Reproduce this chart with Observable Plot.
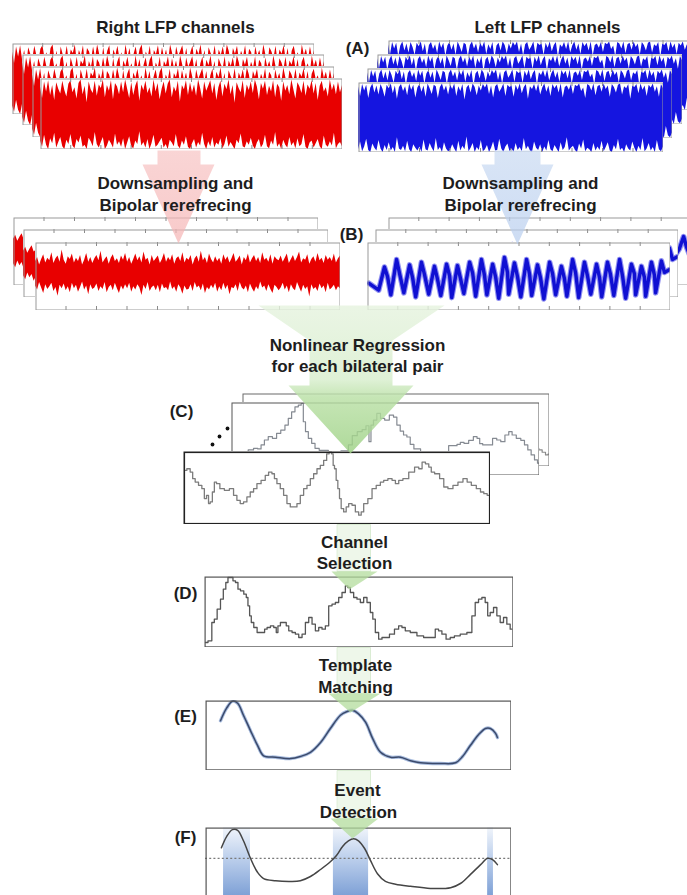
<!DOCTYPE html>
<html>
<head>
<meta charset="utf-8">
<script src="https://cdn.jsdelivr.net/npm/d3@7"></script>
<script src="https://cdn.jsdelivr.net/npm/@observablehq/plot@0.6"></script>
<style>
  html, body { margin: 0; padding: 0; background: white; }
  #fig { position: relative; width: 687px; height: 895px; overflow: hidden; background: white; }
  #fig svg { position: absolute; }
</style>
</head>
<body>
<div id="fig"></div>
<script>
// ---------------- DATA ----------------
const tickPositions = [10, 20, 30, 40, 50, 60, 70, 80, 90];

// (A) raw LFP envelopes (upper / lower), arbitrary µV
const rightA_hi = [38,22,45,31,47,26,40,19,44,35,28,46,33,24,42, 47,30,37,21,43,48,27,39,16,45,34,29,46,25,41, 36,48,23,40,32,47,20,43,38,27,45,30,48,35,22, 44,26,39,47,18,41,33,46,29,37,24,48,31,43,20, 35,45,28,42,48,23,38,31,46,17,40,34,47,26,44, 30,41,25,48,36,21,45,32,39,47,28,43,19,37,46, 24,42,34,48,27,40,15,44,36,30,47,22,41,33,45, 29,48,38,20,43,35,46,26,39,31,47,23,42,37,18, 45,32,40,27,48,34,21,44,38,29,46,25,41,35,47, 28,43,19,39,46,31,37,24,48,33,42,27,45,30,40];
const rightA_lo = [-38,-47,-30,-44,-50,-35,-42,-27,-48,-40,-33,-46,-50,-37,-43, -29,-45,-49,-36,-41,-31,-47,-44,-50,-34,-39,-46,-26,-43,-48, -40,-33,-50,-45,-37,-42,-48,-28,-44,-39,-47,-35,-50,-41,-32, -46,-49,-38,-43,-25,-45,-40,-48,-36,-50,-42,-30,-47,-44,-39, -34,-48,-43,-50,-37,-41,-46,-29,-45,-49,-38,-44,-32,-47,-50, -42,-36,-48,-40,-45,-27,-43,-50,-39,-46,-33,-48,-41,-44,-35, -49,-43,-31,-47,-40,-45,-50,-37,-42,-28,-46,-48,-39,-44,-34, -45,-50,-41,-36,-48,-43,-30,-46,-49,-38,-44,-26,-47,-42,-50, -37,-44,-48,-33,-45,-40,-49,-35,-46,-43,-29,-47,-50,-41,-38, -48,-42,-36,-46,-50,-31,-44,-47,-39,-45,-27,-49,-43,-40,-46];
const leftA_hi = [44,30,47,38,46,27,42,48,35,45,32,47,40,29,46, 41,48,34,45,26,43,47,37,44,31,48,39,46,28,42, 47,36,45,29,48,41,33,46,44,27,43,48,38,45,32, 46,40,48,30,44,37,47,25,42,46,35,48,43,31,45, 38,47,42,48,33,45,28,44,47,36,41,48,30,46,43, 45,29,46,39,48,34,43,47,26,44,40,47,37,48,32, 42,48,36,45,30,47,41,46,35,48,28,43,45,39,47, 33,46,44,48,37,42,27,47,45,38,48,31,44,46,36, 48,40,45,29,47,43,35,46,48,32,44,41,47,26,45, 43,47,34,48,39,45,30,46,42,48,36,44,29,47,41];
const leftA_lo = [-46,-35,-49,-42,-31,-47,-50,-38,-44,-48,-33,-45,-50,-40,-47, -36,-48,-43,-50,-29,-45,-47,-41,-49,-34,-46,-50,-39,-44,-48, -42,-50,-32,-46,-48,-37,-44,-49,-30,-47,-43,-50,-36,-45,-49, -47,-39,-45,-50,-34,-48,-41,-46,-28,-49,-44,-37,-50,-43,-47, -33,-49,-46,-40,-50,-44,-35,-48,-47,-31,-45,-50,-42,-38,-49, -45,-50,-37,-47,-43,-49,-30,-46,-41,-48,-50,-35,-44,-47,-39, -50,-42,-48,-33,-46,-49,-40,-45,-50,-36,-47,-43,-29,-48,-44, -41,-47,-50,-38,-45,-32,-49,-44,-46,-50,-37,-48,-42,-47,-34, -49,-43,-36,-48,-50,-40,-46,-31,-47,-44,-50,-39,-45,-48,-35, -44,-50,-41,-47,-30,-49,-45,-37,-48,-43,-50,-33,-46,-49,-42];

// (B) downsampled, bipolar re-referenced
const rightB_hi = [16,22,11,19,26,14,21,17,29,13,20,24,15,33,18, 12,23,19,27,14,21,16,25,11,18,28,15,22,13,20, 25,17,31,14,19,23,12,21,26,16,20,13,24,18,28, 15,22,12,19,27,17,23,14,30,18,21,11,25,16,20, 24,13,19,28,15,22,17,26,12,20,23,16,29,14,21, 18,25,11,20,24,15,31,17,22,13,27,19,14,23,16, 21,12,26,18,23,14,20,28,15,19,24,11,22,17,27, 14,20,25,16,22,13,29,18,21,15,26,12,23,19,17, 24,15,21,27,13,19,25,16,22,30,14,20,18,26,12, 19,23,15,28,17,21,13,25,18,22,16,27,14,20,24];
const rightB_lo = [-20,-26,-15,-23,-31,-18,-25,-21,-16,-28,-22,-35,-19,-24,-17, -27,-21,-30,-16,-24,-19,-29,-22,-14,-26,-20,-33,-18,-25,-23, -17,-28,-21,-25,-15,-30,-22,-19,-27,-16,-24,-31,-20,-26,-18, -24,-16,-29,-21,-26,-18,-23,-34,-19,-25,-15,-28,-22,-20,-27, -19,-30,-17,-24,-22,-27,-14,-25,-21,-29,-18,-23,-32,-20,-26, -25,-18,-28,-15,-23,-20,-27,-17,-31,-22,-26,-19,-24,-16,-29, -21,-27,-16,-25,-19,-33,-22,-24,-18,-28,-15,-23,-26,-20,-30, -17,-24,-29,-21,-26,-14,-23,-20,-28,-18,-25,-31,-19,-22,-27, -23,-16,-26,-20,-30,-18,-24,-27,-15,-22,-29,-19,-25,-21,-36, -18,-25,-22,-28,-17,-24,-20,-30,-16,-26,-23,-19,-27,-21,-24];
const rightBBack_t = [0, 0.7, 1.4, 2.1, 2.8, 3.5, 4.2];
const rightBBack_hi = [12, 18, 9, 15, 20, 11, 14];
const rightBBack_lo = [-24, -30, -20, -27, -22, -32, -25];
const leftB_t = [0.5, 3.7,5.6,6.6, 7.7,9.6,10.6, 12.0,13.9,14.9, 15.9,17.8,18.8, 20.2,22.1,23.1, 24.2,26.1,27.1, 27.8,29.7,30.7, 31.8,33.7,34.7, 35.7,37.6,38.6, 39.4,41.3,42.3, 43.3,45.2,46.2, 46.6,48.5,49.5, 50.6,52.5,53.5, 54.2,56.1,57.1, 58.2,60.1,61.1, 62.1,64.0,65.0, 65.8,67.7,68.7, 69.7,71.6,72.6, 73.7,75.6,76.6, 77.3,79.2,80.2, 81.3,83.2,84.2, 85.2,87.1,88.1, 88.5,90.4,91.4, 91.8,93.7,94.7, 95.1,97.0,98.0, 99.6];
const leftB_v = [-10, -20,14,0, -27,25,4, -24,17,-2, -30,21,3, -26,15,-4, -28,18,1, -31,16,-3, -25,21,5, -29,25,2, -27,18,-1, -32,28,6, -26,20,0, -30,25,3, -28,17,-2, -33,21,4, -27,15,-3, -29,25,5, -31,21,1, -26,18,-2, -30,21,3, -28,25,0, -32,18,4, -27,15,-1, -29,21,2, -24,23,6, 10];
const leftBBack_t = [90, 94, 96, 97.4, 98.4, 99.5];
const leftBBack_v = [-20, -10, 4, 22, 6, -6];

// (C) regression outputs (sample index, amplitude)
const cFront_t = [20,30,40,45,55,65,75,80,88,92,98,105,110,118,130,145,160,170,180,190,200,210,220,230,240,255,265,275,285,290,300,310,320,330,340,350,360,370,380,390,400,410,420,430,440,448,455,462,465,470,475,480,485,490,500,505,515,525,535,545,550,560,575,585,600,610,620,635,645,655,665,680,700,715,725,735,745,755,760,775,790,800,815,830,845,860,870,885,900,910,920,930];
const cFront_v = [163,168,158,138,128,118,108,78,88,63,68,98,128,123,108,103,108,88,73,63,68,83,98,108,123,133,148,158,153,138,123,108,88,63,53,53,63,88,108,118,138,153,168,178,193,213,218,213,178,168,133,108,78,48,38,53,63,58,38,28,38,63,78,108,118,128,133,138,133,123,133,138,158,173,168,188,183,173,158,153,138,113,108,118,128,138,128,118,108,98,93,88];
const cMid_t = [162,200,220,232,245,252,265,275,290,300,315,325,335,345,355,365,372,378,385,395,405,415,430,470,505,515,528,545,557,568,575,580,590,600,612,625,640,650,660,670,680,690,700,712,740,790,830,840,850,862,878,890,900,906,918,935,948,960,972,985,995,1005,1020,1032,1042,1052,1062,1072,1080];
const cMid_v = [62,67,77,82,80,92,107,117,112,127,137,152,172,192,207,212,217,162,132,112,97,82,76,67,74,92,120,132,138,150,102,152,167,187,172,167,182,176,152,134,122,116,94,80,57,47,90,94,100,97,106,117,112,96,92,92,112,107,102,122,132,122,112,106,92,77,62,47,37];
const cBack_t = [1040, 1060, 1075, 1085, 1095, 1105, 1110];
const cBack_v = [70, 62, 55, 50, 43, 35, 37];

// (D) selected channel
const d_t = [15,30,38,45,55,65,72,80,85,95,100,110,115,125,135,140,145,150,155,165,175,190,195,205,215,225,230,235,245,255,260,270,280,290,300,310,320,330,340,350,360,370,380,390,400,410,420,430,440,445,455,465,475,485,495,505,515,520,530,540,550,560,575,590,600,610,620,640,660,680,700,710,720,730,745,755,770,790,810,820,830,840,850,860,865,875,885,895,905,915,925,935];
const d_v = [15,20,75,85,115,145,175,195,210,210,200,195,175,170,160,150,125,95,75,60,45,45,55,60,65,60,45,65,75,75,65,50,45,40,30,40,75,90,70,50,60,55,65,125,130,135,150,165,185,180,165,150,145,135,150,135,105,85,45,25,30,30,40,55,65,60,50,45,35,30,30,55,50,40,25,30,35,40,45,95,135,145,150,135,95,105,120,95,75,90,70,55];

// (E) template matching output, normalized %
const e_t = [4.9,6.9,8.8,10.5,12.4,14.7,17.0,19.0,22.9,27.8,31.0,34.3,37.6,40.8,44.1,46.1,48.0,50.0,52.3,54.6,57.2,60.5,63.7,67.0,70.3,76.8,81.7,84.0,86.6,89.2,91.5,93.1,94.8,95.4];
const e_v = [71,89,99,96,79,57,36,21,19,17,20,26,40,60,79,84,86,81,69,46,26,19,19,14,11,10,11,20,36,51,60,60,53,47];

// (F) event detection
const f_t = [5.2,6.9,8.8,10.5,12.4,14.7,17.0,19.0,22.9,27.8,31.0,34.3,37.6,40.8,42.8,44.8,46.7,48.4,50.0,52.0,53.9,56.2,58.8,62.1,67.0,73.5,80.1,83.3,86.6,89.9,92.2,93.8,95.4];
const f_v = [71,87,97,96,81,56,36,27,24,23,24,30,40,51,60,73,81,84,81,70,53,34,23,19,16,13,14,20,33,47,56,54,47];
const fThreshold = 56;
const fEventStart = [5.9, 41.8, 92.2];
const fEventEnd = [14.7, 53.3, 94.1];

// text
const titleTexts = ["Right LFP channels", "Left LFP channels"];
const stepTexts = ["Downsampling and", "Bipolar rerefrecing", "Downsampling and", "Bipolar rerefrecing",
  "Nonlinear Regression", "for each bilateral pair", "Channel", "Selection", "Template", "Matching", "Event", "Detection"];
const panelLetters = ["(A)", "(B)", "(C)", "(D)", "(E)", "(F)"];

// ---------------- LAYOUT ----------------
const layout = {
  rightA: {w: 302, h: 71, at: [[12,43],[22,54],[32,66],[40,78]]},
  leftA: {w: 305, h: 70, at: [[388,40],[377,54],[367,68],[358,82]]},
  rightB: {w: 305, h: 68, at: [[13,217],[23,229],[35,242]]},
  leftB: {w: 303, h: 68, at: [[388,217],[375,229],[367,242]]},
  cBack: {x: 242, y: 393, w: 307, h: 73},
  cMid: {x: 231, y: 402, w: 308, h: 73},
  cFront: {x: 183, y: 451, w: 307, h: 73},
  D: {x: 204, y: 576, w: 309, h: 71},
  E: {x: 205, y: 700, w: 306, h: 70},
  F: {x: 205, y: 827, w: 306, h: 70},
  titlePos: [[175,32],[547,32]],
  stepPos: [[175,188],[175,210],[520,188],[520,210],[357,350],[357,371],[354,547],[354,568],[355,670],[355,692],[357,795],[358,817]],
  letterPos: [[357,53],[351,239],[181,416],[185,598],[185,721],[185,842]],
  dots: [[212,444],[219,436],[227,428]],
  pinkArrow: [[157,150],[200,150],[200,164],[214,164],[178,243],[142,164],[157,164]],
  blueArrow: [[494,150],[540,150],[540,164],[553,164],[517,244],[481,164],[494,164]],
  greenBig: [[258,305],[444,305],[392,340],[392,385],[413,385],[350,453],[288,385],[309,385],[309,340]],
  greenShafts: [[[337,524],[370,524],[370,571],[337,571]], [[337,647],[370,647],[370,693],[337,693]], [[337,770],[370,770],[370,818],[337,818]]],
  greenHeads: [[[331,571],[377,571],[349,589]], [[328,693],[380,693],[350,712]], [[330,818],[378,818],[352,838]]]
};

// ---------------- RENDER ----------------
const fig = document.getElementById("fig");

// shared gradients
const NS = "http://www.w3.org/2000/svg";
const defsSvg = document.createElementNS(NS, "svg");
defsSvg.setAttribute("width", 0); defsSvg.setAttribute("height", 0);
defsSvg.innerHTML = `<defs>
  <linearGradient id="greenGrad" gradientUnits="userSpaceOnUse" x1="0" y1="305" x2="0" y2="453">
    <stop offset="0" stop-color="#e6f3df"/><stop offset="0.5" stop-color="#d8eecd"/><stop offset="0.62" stop-color="#b9e0a5"/><stop offset="1" stop-color="#9dd184"/>
  </linearGradient>
  <linearGradient id="pinkGrad" x1="0" y1="0" x2="0" y2="1">
    <stop offset="0" stop-color="#f7c3c3"/><stop offset="1" stop-color="#f5b3b3"/>
  </linearGradient>
  <linearGradient id="blueGrad" x1="0" y1="0" x2="0" y2="1">
    <stop offset="0" stop-color="#c9daf2"/><stop offset="1" stop-color="#b7cdee"/>
  </linearGradient>
  <linearGradient id="bandGrad" x1="0" y1="0" x2="0" y2="1">
    <stop offset="0" stop-color="#f1f5fb"/><stop offset="0.45" stop-color="#bccfec"/><stop offset="1" stop-color="#7c9fd5"/>
  </linearGradient>
</defs>`;
fig.append(defsSvg);

function addPanel({x, y, w, h, xDomain, yDomain, marks, frameStroke = "#9a9a9a", frameWidth = 1}) {
  const svg = Plot.plot({
    width: w, height: h, margin: 0,
    x: {domain: xDomain, axis: null},
    y: {domain: yDomain, axis: null},
    style: {background: "white", overflow: "hidden"},
    marks: [...marks, Plot.frame({stroke: frameStroke, strokeWidth: frameWidth, inset: frameWidth / 2})]
  });
  svg.style.left = x + "px";
  svg.style.top = y + "px";
  fig.append(svg);
}

const frameTicks = (h) => [
  Plot.tickX(tickPositions, {x: d => d, stroke: "#8a8a8a", insetBottom: h - 4}),
  Plot.tickX(tickPositions, {x: d => d, stroke: "#8a8a8a", insetTop: h - 4})
];

const envTable = (hi, lo) => hi.map((v, i) => ({t: i * 100 / (hi.length - 1), hi: v, lo: lo[i]}));

// (A)
const rA = envTable(rightA_hi, rightA_lo);
const lA = envTable(leftA_hi, leftA_lo);
for (const [x, y] of layout.rightA.at) {
  const {w, h} = layout.rightA;
  addPanel({x, y, w, h, xDomain: [0, 100], yDomain: [-50, 50],
    marks: [Plot.areaY(rA, {x: "t", y1: "lo", y2: "hi", fill: "#e80000"}), ...frameTicks(h)]});
}
for (const [x, y] of layout.leftA.at) {
  const {w, h} = layout.leftA;
  addPanel({x, y, w, h, xDomain: [0, 100], yDomain: [-50, 50],
    marks: [Plot.areaY(lA, {x: "t", y1: "lo", y2: "hi", fill: "#1515e0"}), ...frameTicks(h)]});
}

// (B)
const rB = envTable(rightB_hi, rightB_lo);
const rBBack = rightBBack_t.map((t, i) => ({t, hi: rightBBack_hi[i], lo: rightBBack_lo[i]}));
layout.rightB.at.forEach(([x, y], k) => {
  const {w, h} = layout.rightB;
  const data = k < 2 ? rBBack : rB;
  addPanel({x, y, w, h, xDomain: [0, 100], yDomain: [-56, 44],
    marks: [Plot.areaY(data, {x: "t", y1: "lo", y2: "hi", fill: "#e80000"}), ...frameTicks(h)]});
});
const lB = leftB_t.map((t, i) => ({t, v: leftB_v[i]}));
const lBBack = leftBBack_t.map((t, i) => ({t, v: leftBBack_v[i]}));
layout.leftB.at.forEach(([x, y], k) => {
  const {w, h} = layout.leftB;
  const data = k === 0 ? lBBack : lB;
  addPanel({x, y, w, h, xDomain: [0, 100], yDomain: [-50, 50],
    marks: [
      Plot.line(data, {x: "t", y: "v", stroke: "#3434e6", strokeOpacity: 0.55, strokeWidth: 5.6}),
      Plot.line(data, {x: "t", y: "v", stroke: "#1010d2", strokeWidth: 3.4}),
      ...frameTicks(h)]});
});

// (C)
const cB = cBack_t.map((t, i) => ({t, v: cBack_v[i]}));
const cM = cMid_t.map((t, i) => ({t, v: cMid_v[i]}));
const cF = cFront_t.map((t, i) => ({t, v: cFront_v[i]}));
addPanel({...layout.cBack, xDomain: [192, 1112], yDomain: [0, 220], frameStroke: "#6a6a6a",
  marks: [Plot.line(cB, {x: "t", y: "v", stroke: "#8a8a8a", strokeWidth: 1.2, curve: "step"})]});
addPanel({...layout.cMid, xDomain: [160, 1082], yDomain: [0, 220], frameStroke: "#555",
  marks: [Plot.line(cM, {x: "t", y: "v", stroke: "#858a92", strokeWidth: 1.2, curve: "step"})]});
addPanel({...layout.cFront, xDomain: [15, 935], yDomain: [0, 220], frameStroke: "#222", frameWidth: 1.6,
  marks: [Plot.line(cF, {x: "t", y: "v", stroke: "#7c7c7c", strokeWidth: 1.3, curve: "step"})]});

// (D)
const dD = d_t.map((t, i) => ({t, v: d_v[i]}));
addPanel({...layout.D, xDomain: [12, 940], yDomain: [0, 213], frameStroke: "#555", frameWidth: 1.2,
  marks: [Plot.line(dD, {x: "t", y: "v", stroke: "#555", strokeWidth: 1.3, curve: "step"})]});

// (E)
const eD = e_t.map((t, i) => ({t, v: e_v[i]}));
addPanel({...layout.E, xDomain: [0, 100], yDomain: [0, 100], frameStroke: "#555", frameWidth: 1.2,
  marks: [
    Plot.line(eD, {x: "t", y: "v", stroke: "#a9bddf", strokeWidth: 3.4, curve: "catmull-rom"}),
    Plot.line(eD, {x: "t", y: "v", stroke: "#3b4a6b", strokeWidth: 1.5, curve: "catmull-rom"})
  ]});

// (F)
const fD = f_t.map((t, i) => ({t, v: f_v[i]}));
const fEv = fEventStart.map((s, i) => ({start: s, end: fEventEnd[i]}));
addPanel({...layout.F, xDomain: [0, 100], yDomain: [0, 100], frameStroke: "#555", frameWidth: 1.2,
  marks: [
    Plot.rect(fEv, {x1: "start", x2: "end", y1: 0, y2: 100, fill: "url(#bandGrad)"}),
    Plot.ruleY([fThreshold], {stroke: "#7a7a7a", strokeWidth: 1.3, strokeDasharray: "2,2.2"}),
    Plot.line(fD, {x: "t", y: "v", stroke: "#454545", strokeWidth: 1.5, curve: "catmull-rom"})
  ]});

// Overlay: arrows + text
const pts = arr => arr.map(([x, y]) => ({x, y}));
const textRows = (texts, pos) => texts.map((text, i) => ({text, x: pos[i][0], y: pos[i][1]}));
const font = {fontSize: 17, fontWeight: "bold", fontFamily: "Liberation Sans, Arial, Helvetica, sans-serif", fill: "#1d1d1d", textAnchor: "middle", lineAnchor: "bottom"};

const overlay = Plot.plot({
  width: 687, height: 895, margin: 0,
  x: {domain: [0, 687], range: [0, 687], axis: null},
  y: {domain: [0, 895], range: [0, 895], axis: null},
  style: {background: "transparent", overflow: "visible"},
  marks: [
    Plot.line(pts(layout.pinkArrow), {x: "x", y: "y", fill: "url(#pinkGrad)", fillOpacity: 0.7, stroke: "none", curve: "linear-closed"}),
    Plot.line(pts(layout.blueArrow), {x: "x", y: "y", fill: "url(#blueGrad)", fillOpacity: 0.7, stroke: "none", curve: "linear-closed"}),
    Plot.line(pts(layout.greenBig), {x: "x", y: "y", fill: "url(#greenGrad)", fillOpacity: 0.82, stroke: "none", curve: "linear-closed"}),
    ...layout.greenShafts.map(s => Plot.line(pts(s), {x: "x", y: "y", fill: "#e3f1dc", fillOpacity: 0.6, stroke: "#cfe5c4", strokeWidth: 1, strokeOpacity: 0.7, curve: "linear-closed"})),
    ...layout.greenHeads.map(s => Plot.line(pts(s), {x: "x", y: "y", fill: "#b3dc9c", fillOpacity: 0.75, stroke: "none", curve: "linear-closed"})),
    Plot.dot(pts(layout.dots), {x: "x", y: "y", r: 1.9, fill: "#111", stroke: "none"}),
    Plot.text(textRows(titleTexts, layout.titlePos), {x: "x", y: "y", text: "text", ...font}),
    Plot.text(textRows(stepTexts, layout.stepPos), {x: "x", y: "y", text: "text", ...font}),
    Plot.text(textRows(panelLetters, layout.letterPos), {x: "x", y: "y", text: "text", ...font})
  ]
});
overlay.style.left = "0px";
overlay.style.top = "0px";
overlay.style.pointerEvents = "none";
fig.append(overlay);
</script>
</body>
</html>
